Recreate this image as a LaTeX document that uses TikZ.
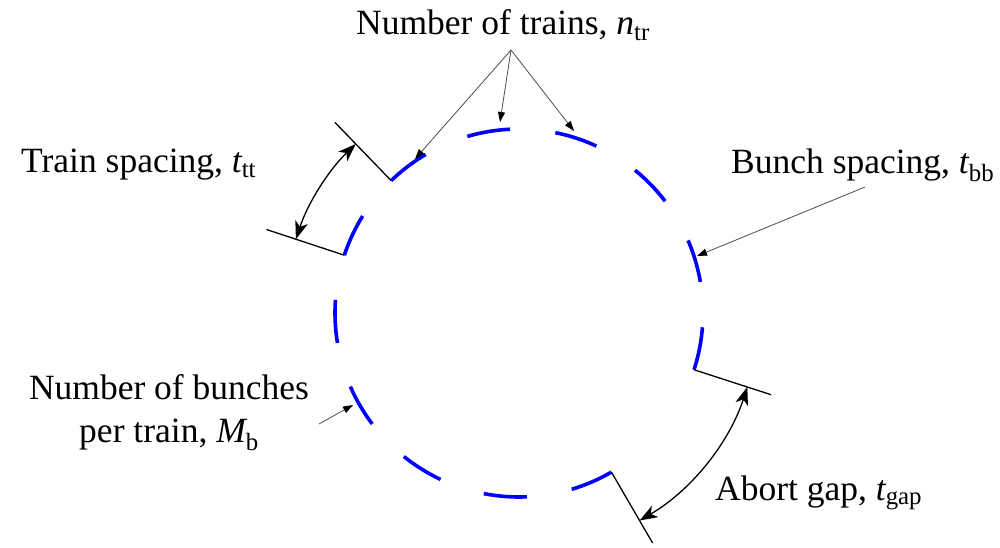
\documentclass[tikz,border=0pt]{standalone}
\usepackage{fontspec}
\usepackage{amsmath}
\setmainfont{Liberation Serif}
\newfontfamily\tms{Liberation Serif}
\usetikzlibrary{arrows.meta}
\begin{document}
\begin{tikzpicture}[x=1pt,y=1pt,
  bunch/.style={draw=blue, line width=3.6pt},
  marker/.style={draw=black, line width=1.3pt},
  span/.style={draw=black, line width=1.3pt,
    {Stealth[length=18pt,width=13pt,inset=5pt]}-{Stealth[length=18pt,width=13pt,inset=5pt]}},
  lead/.style={draw=black!70, line width=0.8pt, -{Triangle[length=10pt,width=7pt,color=black]}},
  lbl/.style={inner sep=0pt, font=\tms\fontsize{35.5}{43}\selectfont}]
\useasboundingbox (0,0) rectangle (1000,-548);
\coordinate (C) at (519,-313);
% bunch trains (dashes)
\foreach \k in {0,1,2,3,4,5,7,8,9,10,11,12}{
  \pgfmathsetmacro\a{134-27.6923*\k}
  \draw[bunch] ([shift={(\a:184)}]C) arc[start angle=\a, end angle=\a-13.5, radius=184pt];
}
% marker lines
\coordinate (tA1) at ([shift={(134:184)}]C);
\coordinate (tA2) at ([shift={(134:265)}]C);
\coordinate (tL1) at ([shift={(161.7:184)}]C);
\coordinate (tL2) at ([shift={(161.7:266)}]C);
\coordinate (gF1) at ([shift={(-17.96:184)}]C);
\coordinate (gF2) at ([shift={(-17.96:265)}]C);
\coordinate (gK1) at ([shift={(-59.85:184)}]C);
\coordinate (gK2) at ([shift={(-59.85:266)}]C);
\draw[marker] (tA1) -- (tA2);
\draw[marker] (tL1) -- (tL2);
\draw[marker] (gF1) -- (gF2);
\draw[marker] (gK1) -- (gK2);
% span arrows
\coordinate (tsS) at ([shift={(161.7:235)}]C);
\coordinate (agS) at ([shift={(-17.96:240)}]C);
\draw[span] (tsS) arc[start angle=161.7, end angle=134, radius=235pt];
\draw[span] (agS) arc[start angle=-17.96, end angle=-59.85, radius=240pt];
% labels
\node[lbl, anchor=base west] (ntr) at (356,-35) {Number of trains, $\textit{n}_{\text{tr}}$};
\node[lbl, anchor=base west] (ttt) at (21,-172) {Train spacing, $\textit{t}_{\text{tt}}$};
\node[lbl, anchor=base west] (tbb) at (731,-173) {Bunch spacing, $\textit{t}_{\text{bb}}$};
\node[lbl, anchor=base, align=center] (mb) at (169,-442) {Number of bunches\\per train, $\textit{M}_{\text{b}}$};
\node[lbl, anchor=base west] (tgap) at (715,-500) {Abort gap, $\textit{t}_{\text{gap}}$};
% leader arrows
\coordinate (ntrO) at (511,-50);
\coordinate (p1) at (415,-159);
\coordinate (p2) at (500,-122);
\coordinate (p3) at (574,-131);
\draw[lead] (ntrO) -- (p1);
\draw[lead] (ntrO) -- (p2);
\draw[lead] (ntrO) -- (p3);
\coordinate (tbbO) at (865,-187);
\coordinate (p4) at (697,-256);
\draw[lead] (tbbO) -- (p4);
\coordinate (mbO) at (319,-424);
\coordinate (p5) at (353,-405);
\draw[lead] (mbO) -- (p5);
\end{tikzpicture}
\end{document}
